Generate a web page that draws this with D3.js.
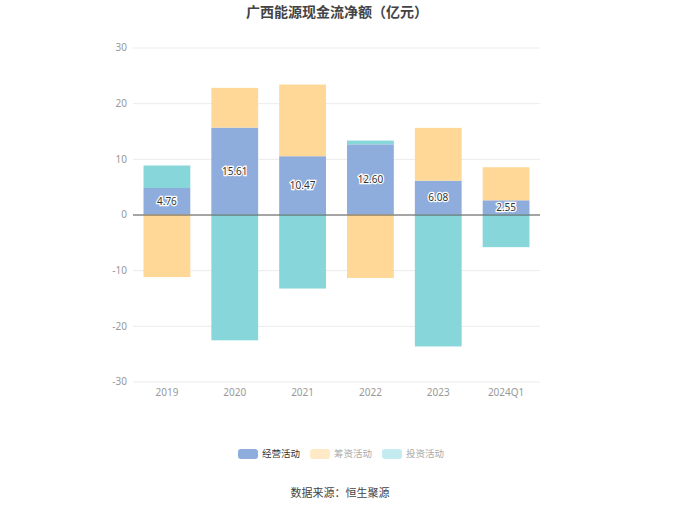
<!DOCTYPE html>
<html>
<head>
<meta charset="utf-8">
<script src="https://cdn.jsdelivr.net/npm/d3@7"></script>
<style>
  body { margin: 0; background: #fff; font-family: "Noto Sans CJK SC", "Noto Sans", sans-serif; }
</style>
</head>
<body>
<div id="chart"></div>
<script>
// données
const years = ["2019", "2020", "2021", "2022", "2023", "2024Q1"];
const operating = [4.76, 15.61, 10.47, 12.60, 6.08, 2.55];
const financing = [-11.25, 7.14, 12.87, -11.4, 9.48, 5.94];
const investing = [4.04, -22.6, -13.3, 0.68, -23.7, -5.87];
const yTicks = [-30, -20, -10, 0, 10, 20, 30];

const seriesNames = ["经营活动", "筹资活动", "投资活动"];
const seriesValues = [operating, financing, investing];
const colors = ["#8eaddc", "#ffd897", "#87d6da"];
const legendColors = ["#8eaddc", "#ffe9c7", "#c4ebef"];

const W = 680, H = 509;
const MARGIN = { top: 47.5, right: 140, bottom: 127.5, left: 133 };

const svg = d3.select("#chart").append("svg")
  .attr("width", W)
  .attr("height", H);

const x = d3.scaleBand()
  .domain(years)
  .range([MARGIN.left, W - MARGIN.right])
  .paddingInner(0.31)
  .paddingOuter(0.155);

const y = d3.scaleLinear()
  .domain([-30, 30])
  .range([H - MARGIN.bottom, MARGIN.top]);

// Titre
svg.append("text")
  .attr("x", 337)
  .attr("y", 17)
  .attr("text-anchor", "middle")
  .attr("font-size", 14)
  .attr("font-weight", "bold")
  .attr("fill", "#444")
  .text("广西能源现金流净额（亿元）");

// grille
svg.append("g")
  .selectAll("line")
  .data(yTicks)
  .join("line")
  .attr("x1", MARGIN.left)
  .attr("x2", W - MARGIN.right)
  .attr("y1", d => y(d) + 0.5)
  .attr("y2", d => y(d) + 0.5)
  .attr("stroke", "#ebebeb");

// axe Y
const yAxis = svg.append("g")
  .attr("transform", `translate(${MARGIN.left},0)`)
  .call(d3.axisLeft(y).tickValues(yTicks).tickFormat(d => String(d)).tickSize(0).tickPadding(6));
yAxis.select(".domain").remove();
yAxis.selectAll("text")
  .attr("fill", "#999")
  .attr("font-size", 10)
  .attr("font-family", "'Noto Sans', sans-serif");

// axe X
const xAxis = svg.append("g")
  .attr("transform", `translate(0,${y(-30)})`)
  .call(d3.axisBottom(x).tickSize(0).tickPadding(7));
xAxis.select(".domain").remove();
xAxis.selectAll("text")
  .attr("fill", "#999")
  .attr("font-size", 10)
  .attr("font-family", "'Noto Sans', sans-serif");

// empilement pos/neg
const rows = years.map((yr, i) => {
  const row = { year: yr };
  seriesNames.forEach((s, k) => row[s] = seriesValues[k][i]);
  return row;
});
const stack = d3.stack()
  .keys(seriesNames)
  .offset(d3.stackOffsetDiverging);
const stacked = stack(rows);

svg.append("g")
  .selectAll("g")
  .data(stacked)
  .join("g")
  .attr("fill", (d, i) => colors[i])
  .selectAll("rect")
  .data(d => d)
  .join("rect")
  .attr("x", d => x(d.data.year))
  .attr("width", x.bandwidth())
  .attr("y", d => y(Math.max(d[0], d[1])))
  .attr("height", d => Math.abs(y(d[0]) - y(d[1])));

// ligne zéro
svg.append("line")
  .attr("x1", MARGIN.left)
  .attr("x2", W - MARGIN.right)
  .attr("y1", y(0) + 0.5)
  .attr("y2", y(0) + 0.5)
  .attr("stroke", "#555");

// étiquettes
svg.append("g")
  .selectAll("text")
  .data(stacked[0])
  .join("text")
  .attr("x", d => x(d.data.year) + x.bandwidth() / 2)
  .attr("y", d => y((d[0] + d[1]) / 2))
  .attr("dy", "0.35em")
  .attr("text-anchor", "middle")
  .attr("font-size", 10)
  .attr("font-family", "'Noto Sans', sans-serif")
  .attr("fill", "#333")
  .attr("stroke", "#fff")
  .attr("stroke-width", 2.5)
  .attr("paint-order", "stroke")
  .text(d => (d[1] - d[0]).toFixed(2));

// légende
const legendX = [238, 310, 382];
const legend = svg.append("g")
  .selectAll("g")
  .data(seriesNames)
  .join("g")
  .attr("transform", (d, i) => `translate(${legendX[i]},449)`);
legend.append("rect")
  .attr("width", 20)
  .attr("height", 10)
  .attr("rx", 3)
  .attr("fill", (d, i) => legendColors[i]);
legend.append("text")
  .attr("x", 24)
  .attr("y", 5)
  .attr("dy", "0.35em")
  .attr("font-size", 9.5)
  .attr("fill", (d, i) => i === 0 ? "#333" : "#aaa")
  .text(d => d);

// source
svg.append("text")
  .attr("x", 340)
  .attr("y", 497)
  .attr("text-anchor", "middle")
  .attr("font-size", 11)
  .attr("fill", "#444")
  .text("数据来源：恒生聚源");
</script>
</body>
</html>
